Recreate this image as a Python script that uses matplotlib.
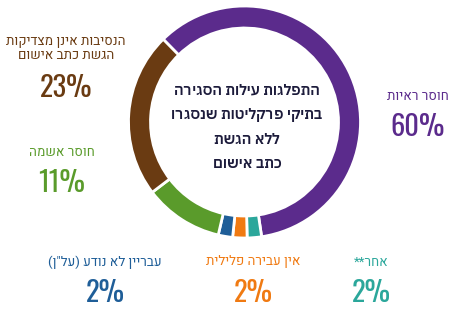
import matplotlib
matplotlib.use('Agg')
import matplotlib.pyplot as plt

# data (clockwise from the upper-left gap)
labels = ['חוסר ראיות', 'אחר**', 'אין עבירה פלילית', 'עבריין לא נודע (על"ן)',
          'חוסר אשמה', 'הנסיבות אינן מצדיקות\nהגשת כתב אישום']
values = [60, 2, 2, 2, 11, 23]
colors = ['#5b2b8c', '#2ba79b', '#f07a12', '#1f5e98', '#5a9b2b', '#6a3b12']
title_lines = ['התפלגות עילות הסגירה', 'בתיקי פרקליטות שנסגרו', 'ללא הגשת', 'כתב אישום']


def rtl(s):
    # matplotlib has no bidi support: reverse hebrew and mirror brackets
    out = s[::-1]
    return out.translate(str.maketrans('()', ')('))


heb_fam = ['Heebo', 'IBM Plex Sans Hebrew', 'DejaVu Sans']
num_fam = ['Oswald', 'Barlow Condensed', 'DejaVu Sans']
H = 333

fig = plt.figure(figsize=(4.65, 3.33), dpi=100)
ax = fig.add_axes([0, 0, 1, 1])

ax.pie(values, colors=colors, startangle=134.5, counterclock=False,
       center=(244.5, H - 122), radius=116,
       wedgeprops=dict(width=22, edgecolor='white', linewidth=2))
ax.set_xlim(0, 465)
ax.set_ylim(0, H)
ax.set_aspect('equal')
ax.axis('off')

# centre title
for i, line in enumerate(title_lines):
    ax.text(247, H - (91 + i * 24.3), rtl(line), ha='center', va='center',
            fontsize=10.6, color='#1c1b3b',
            family=['IBM Plex Sans Hebrew'] + heb_fam, fontweight='semibold')

# labels: (x, y of text, y of number)
pos = [(418, 97, 127), (371, 262, 293), (253, 262, 293), (105, 262, 293),
       (62, 152, 183), (66, 48.5, 88)]
for (x, yt, yn), lab, v, c in zip(pos, labels, values, colors):
    txt = '\n'.join(rtl(l) for l in lab.split('\n'))
    ax.text(x, H - yt, txt, ha='center', va='center', fontsize=9.6,
            color=c, family=heb_fam, linespacing=1.1)
    ax.text(x, H - yn, f'{v}%', ha='center', va='center', fontsize=20.5,
            color=c, family=num_fam)

fig.savefig('out.png', dpi=100)
